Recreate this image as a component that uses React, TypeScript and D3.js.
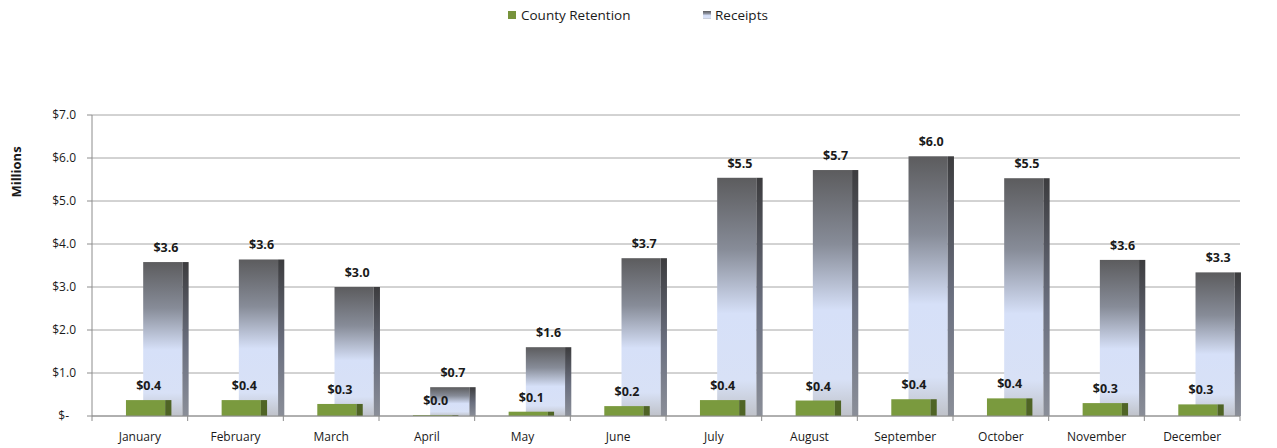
import * as d3 from "d3";

const months = [
  "January", "February", "March", "April", "May", "June",
  "July", "August", "September", "October", "November", "December",
];
const countyRetention = [0.37, 0.37, 0.28, 0.02, 0.1, 0.23, 0.37, 0.36, 0.39, 0.41, 0.3, 0.27];
const receipts = [3.58, 3.64, 3.0, 0.67, 1.6, 3.67, 5.54, 5.72, 6.04, 5.53, 3.63, 3.34];
const yTicks = [0, 1, 2, 3, 4, 5, 6, 7];

const W = 1277;
const H = 448;
const margin = { top: 115, right: 37, bottom: 32, left: 92 };
const FONT = "'Open Sans', Lato, sans-serif";

const fmt = (v: number) => `$${v.toFixed(1)}`;

export default function App() {
  const x = d3
    .scaleBand<string>()
    .domain(months)
    .range([margin.left, W - margin.right])
    .padding(0);
  const y = d3.scaleLinear().domain([0, 7]).range([H - margin.bottom, margin.top]);
  const bw = x.bandwidth();
  const front = bw * 0.41;
  const side = bw * 0.065;
  const greenOff = bw * 0.355;
  const recOff = bw * 0.535;

  return (
    <svg width={W} height={H} style={{ display: "block", position: "absolute", left: 0, top: 0 }}>
      <defs>
        <linearGradient id="rec" x1="0" y1="0" x2="0" y2="1">
          <stop offset="0" stopColor="#5c5c5e" />
          <stop offset="0.3" stopColor="#878c98" />
          <stop offset="0.57" stopColor="#d6e0f8" />
          <stop offset="0.85" stopColor="#d8e1f6" />
          <stop offset="1" stopColor="#bfc2c9" />
        </linearGradient>
        <linearGradient id="recSide" x1="0" y1="0" x2="0" y2="1">
          <stop offset="0" stopColor="#3c3c3e" />
          <stop offset="0.55" stopColor="#6b7080" />
          <stop offset="1" stopColor="#8a8e98" />
        </linearGradient>
      </defs>
      <rect width={W} height={H} fill="#fff" />

      {/* legend */}
      <g fontFamily={FONT} fontSize={13.5} fill="#1a1a1a">
        <rect x={508} y={11} width={8} height={8} fill="#77933c" />
        <text x={521} y={20}>County Retention</text>
        <rect x={703} y={11} width={8} height={8} fill="url(#rec)" />
        <text x={715} y={20}>Receipts</text>
      </g>

      {/* grid */}
      {yTicks.map((t) => (
        <line key={t} x1={margin.left} x2={W - margin.right} y1={y(t)} y2={y(t)} stroke="#a6a6a6" strokeWidth={1} />
      ))}
      {/* y axis */}
      <line x1={margin.left} x2={margin.left} y1={y(7)} y2={y(0)} stroke="#8c8c8c" />
      {yTicks.map((t) => (
        <g key={t}>
          <line x1={margin.left - 5} x2={margin.left} y1={y(t)} y2={y(t)} stroke="#8c8c8c" />
          <text
            x={t === 0 ? 69 : 76}
            y={y(t)}
            dy="0.35em"
            textAnchor="end"
            fontFamily={FONT}
            fontSize={12}
            fill="#1a1a1a"
          >
            {t === 0 ? "$-" : fmt(t)}
          </text>
        </g>
      ))}
      <text
        transform={`translate(21,${172}) rotate(-90)`}
        textAnchor="middle"
        fontFamily={FONT}
        fontSize={13}
        fontWeight="bold"
        fill="#1a1a1a"
      >
        Millions
      </text>

      {/* receipts bars */}
      {months.map((m, i) => {
        const x0 = (x(m) ?? 0) + recOff;
        const top = y(receipts[i]);
        const h = y(0) - top;
        return (
          <g key={m}>
            <rect x={x0} y={top} width={front} height={h} fill="url(#rec)" />
            <rect x={x0 + front} y={top} width={side} height={h} fill="url(#recSide)" />
          </g>
        );
      })}
      {/* county retention bars */}
      {months.map((m, i) => {
        const x0 = (x(m) ?? 0) + greenOff;
        const top = y(countyRetention[i]);
        const h = y(0) - top;
        return (
          <g key={m}>
            <rect x={x0} y={top} width={front} height={h} fill="#7a9a3e" />
            <rect x={x0 + front} y={top} width={side} height={h} fill="#4f6425" />
          </g>
        );
      })}

      {/* x axis */}
      <line x1={margin.left} x2={W - margin.right} y1={y(0)} y2={y(0)} stroke="#8c8c8c" />
      {months.map((m) => (
        <line key={m} x1={(x(m) ?? 0) + bw} x2={(x(m) ?? 0) + bw} y1={y(0)} y2={y(0) + 5} stroke="#8c8c8c" />
      ))}
      <line x1={margin.left} x2={margin.left} y1={y(0)} y2={y(0) + 5} stroke="#8c8c8c" />
      {months.map((m) => (
        <text
          key={m}
          x={(x(m) ?? 0) + bw / 2}
          y={y(0) + 25}
          textAnchor="middle"
          fontFamily={FONT}
          fontSize={12}
          fill="#1a1a1a"
        >
          {m}
        </text>
      ))}

      {/* value labels */}
      <g fontFamily={FONT} fontSize={12.5} fontWeight="bold" fill="#1a1a1a" textAnchor="middle">
        {months.map((m, i) => (
          <text key={`r${m}`} x={(x(m) ?? 0) + recOff + (front + side) / 2} y={y(receipts[i]) - 10}>
            {fmt(receipts[i])}
          </text>
        ))}
        {months.map((m, i) => (
          <text key={`g${m}`} x={(x(m) ?? 0) + greenOff + (front + side) / 2} y={y(countyRetention[i]) - 10}>
            {fmt(countyRetention[i])}
          </text>
        ))}
      </g>
    </svg>
  );
}
